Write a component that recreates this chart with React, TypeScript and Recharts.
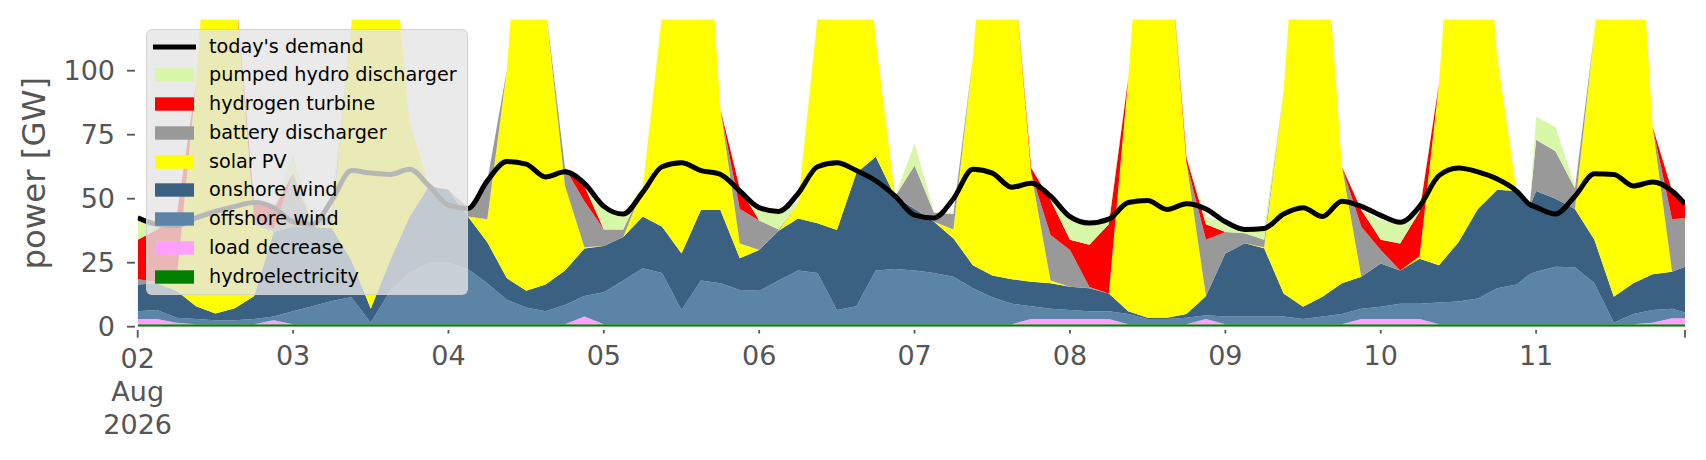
import React from 'react';
import { ComposedChart, Area, Line, XAxis, YAxis } from 'recharts';

const FONT = '"DejaVu Sans", Verdana, sans-serif';

// hours since 2026-08-02 00:00 (3-hourly readings, plus one extra reading at 215 h)
const hours = [
  0, 3, 6, 9, 12, 15, 18, 21,
  24, 27, 30, 33, 36, 39, 42, 45,
  48, 51, 54, 57, 60, 63, 66, 69,
  72, 75, 78, 81, 84, 87, 90, 93,
  96, 99, 102, 105, 108, 111, 114, 117,
  120, 123, 126, 129, 132, 135, 138, 141,
  144, 147, 150, 153, 156, 159, 162, 165,
  168, 171, 174, 177, 180, 183, 186, 189,
  192, 195, 198, 201, 204, 207, 210, 213,
  215, 216, 219, 222, 225, 228, 231, 234, 237,
  239,
];

const hydro = [
  1, 1, 1, 1, 1, 1, 1, 1,
  1, 1, 1, 1, 1, 1, 1, 1,
  1, 1, 1, 1, 1, 1, 1, 1,
  1, 1, 1, 1, 1, 1, 1, 1,
  1, 1, 1, 1, 1, 1, 1, 1,
  1, 1, 1, 1, 1, 1, 1, 1,
  1, 1, 1, 1, 1, 1, 1, 1,
  1, 1, 1, 1, 1, 1, 1, 1,
  1, 1, 1, 1, 1, 1, 1, 1,
  1, 1, 1, 1, 1, 1, 1, 1, 1,
  1,
];

const loadDecrease = [
  2, 2, 0.5, 0, 0, 0, 0, 1.5,
  0, 0, 0, 0, 0, 0, 0, 0,
  0, 0, 0, 0, 0, 0, 0, 3,
  0, 0, 0, 0, 0, 0, 0, 0,
  0, 0, 0, 0, 0, 0, 0, 0,
  0, 0, 0, 0, 0, 0, 2, 2,
  2, 2, 2, 0, 0, 0, 0, 2,
  0, 0, 0, 0, 0, 0, 0, 2,
  2, 2, 2, 0, 0, 0, 0, 0,
  0, 0, 0, 0, 0, 0, 0, 0.5, 2.3,
  2.3,
];

const offshoreWind = [
  3, 3.5, 2, 2, 1.5, 1.5, 2, 1.5,
  5, 7, 9, 10.5, 0.5, 13, 20, 24,
  24, 21.5, 16, 9.5, 6.5, 5, 7.5, 8,
  12.5, 17, 21.8, 20, 5.5, 17, 16, 13.3,
  13, 17, 21, 20, 5.5, 7, 21, 21.5,
  21, 20, 18.5, 14, 10.5, 8, 5, 4,
  3.5, 3, 3, 4, 2, 2, 2.5, 1.5,
  3, 3, 3, 3, 2, 3, 4, 4,
  4.8, 6, 6, 8.5, 8.8, 10, 14, 15.5,
  19.5, 20.5, 22.4, 22.2, 16, 0.5, 4, 5, 3.7,
  2.2,
];

const onshoreWind = [
  10.5, 10.5, 10.5, 5, 2.7, 4.7, 9, 33,
  33, 31, 28.5, 14.5, 5.5, 12, 22, 30,
  28.5, 20.5, 16, 8.5, 6.5, 10.5, 13.5, 18.5,
  18, 17, 20.2, 18, 22.1, 27.6, 28.6, 12.4,
  16, 19.5, 20.3, 19.4, 31.3, 52, 44.4, 28.3,
  24, 20, 15, 9, 8.5, 9.5, 9.6, 10,
  9.1, 9, 7, 1, 0.5, 0.5, 1.5, 7.5,
  24.6, 28.6, 26.6, 9, 4.8, 7.7, 12, 12.5,
  16.9, 13, 17.5, 14.5, 23.2, 35, 38.5, 36.5,
  26.5, 31.5, 26.6, 22.8, 17, 10.2, 12, 14, 14.5,
  17.9,
];

const solarPV = [
  0, 0, 4, 87, 195, 128, 28, 0,
  0, 0, 1.5, 92, 193, 134, 37, 0,
  0, 0, 9, 81, 186, 108.5, 33, 0.5,
  0, 0, 11, 83, 171, 154, 39.4, 5.8,
  0, 0, 5.7, 80.6, 162, 140, 45.6, 0,
  0, 0, 3.5, 81, 180, 131.5, 42.4, 1,
  0, 0, 0, 91, 196, 156.5, 59, 0,
  0, 0, 0.4, 79, 192, 158, 45.5, 0,
  0, 0, 1, 71, 167, 154, 51.5, 0,
  0, 0, 0, 0, 81, 188, 183, 57.5, 0,
  0,
];

const batteryDischarger = [
  2, 0.5, 0, 0, 0, 0, 2, 1,
  21, 1, 4, 0, 0, 0, 0, 0,
  0, 3.5, 15, 0, 0, 0, 7, 18,
  6.5, 3, 0, 0, 0, 0, 0, 13.5,
  11.5, 0.5, 0, 0, 0, 0, 0, 0.2,
  17, 3.5, 6, 0, 0, 0, 0, 17.8,
  14.4, 0.5, 0, 0, 0, 0, 0, 22,
  8.4, 3.9, 3, 0, 0, 0, 0, 19.5,
  5.3, 0, 0, 0, 0, 0, 0, 0,
  0, 20, 18.5, 8, 0, 0, 0, 0, 20.5,
  19.1,
];

const hydrogenTurbine = [
  15.5, 20.5, 25, 0, 0, 0, 6, 8,
  0, 0, 0, 0, 0, 0, 0, 0,
  0, 0, 0, 0, 0, 0, 0, 6,
  0, 0, 0, 0, 0, 0, 0, 8,
  0, 0, 0, 0, 0, 0, 0, 0,
  0, 0, 0, 0, 0, 0, 2, 13.7,
  4, 16.5, 27, 0, 0, 0, 2, 6,
  0, 0, 0, 0, 0, 0, 0, 6.6,
  4, 10.5, 17.5, 0, 0, 0, 0, 0,
  0, 0, 0, 0, 0, 0, 0, 0, 11,
  5.5,
];

const pumpedHydro = [
  7.5, 1, 0, 0, 0, 0, 0, 1,
  7, 1, 5, 0, 0, 0, 0, 0,
  0, 0, 0, 0, 0, 0, 0, 0,
  8, 5, 1, 0, 0, 0, 0, 0,
  5, 7, 1, 0, 0, 0, 0, 0,
  8.6, 0.5, 0.5, 0, 0, 0, 0, 0,
  8, 8.4, 1.5, 0, 0, 0, 0, 3,
  3.5, 1.3, 4, 0, 0, 0, 0, 0,
  7.7, 8.5, 1, 0, 0, 0, 0, 0,
  0, 9, 9.5, 1, 0, 0, 0, 0, 0,
  0,
];

const demand = [
  42.5, 40, 39.5, 42.5, 45, 47, 48.5, 46.5,
  41, 40, 49.5, 61, 60, 59.5, 61.5, 55,
  47.5, 46.2, 57, 64.5, 63.5, 58.5, 60.5, 56,
  47, 44, 52.5, 62.5, 64, 61, 59.5, 53,
  46.5, 45, 52, 62.5, 64, 61, 57, 51,
  43.6, 42.5, 50, 61.5, 60, 54.5, 56, 51,
  43, 40.5, 42, 48.5, 49.3, 45.8, 48, 46,
  41, 38, 38.4, 44, 46.5, 43, 49, 47,
  43.5, 40.8, 47, 59, 62, 60.5, 57.7, 53,
  47.8, 46.7, 44, 51, 59.7, 59.5, 55, 56.5, 53,
  48,
];

const xTickHours = [0, 24, 48, 72, 96, 120, 144, 168, 192, 216, 239];
const xTickLabels = [['02', 'Aug', '2026'], ['03'], ['04'], ['05'], ['06'], ['07'], ['08'], ['09'], ['10'], ['11'], []];
const yTicks = [0, 25, 50, 75, 100];

// stacking order, bottom to top
const stackSeries = [
  { key: 'hydro', name: 'hydroelectricity', color: '#008000', values: hydro },
  { key: 'load', name: 'load decrease', color: '#ffa0ff', values: loadDecrease },
  { key: 'offwind', name: 'offshore wind', color: '#5c84a6', values: offshoreWind },
  { key: 'onwind', name: 'onshore wind', color: '#3b6182', values: onshoreWind },
  { key: 'solar', name: 'solar PV', color: '#ffff00', values: solarPV },
  { key: 'battery', name: 'battery discharger', color: '#999999', values: batteryDischarger },
  { key: 'h2', name: 'hydrogen turbine', color: '#ff0000', values: hydrogenTurbine },
  { key: 'phs', name: 'pumped hydro discharger', color: '#d8f7a8', values: pumpedHydro },
];

const data = hours.map((t, i) => {
  const row: Record<string, number> = { t, demand: demand[i] };
  stackSeries.forEach((s) => {
    row[s.key] = s.values[i];
  });
  return row;
});

const legendItems = [
  { name: "today's demand", color: '#000000', kind: 'line' },
  ...stackSeries
    .slice()
    .reverse()
    .map((s) => ({ name: s.name, color: s.color, kind: 'patch' })),
];

const TICK_COLOR = '#555555';

const XTick = (props: any) => {
  const { x, y, payload } = props;
  const idx = xTickHours.indexOf(payload.value);
  const lines = idx >= 0 ? xTickLabels[idx] : [];
  const major = idx === 0 || idx === xTickHours.length - 1;
  return (
    <g>
      <line x1={x} x2={x} y1={y + 3.3} y2={y + (major ? 11 : 6.8)} stroke={TICK_COLOR} strokeWidth={1.8} />
      {lines.map((s, k) => (
        <text
          key={k}
          x={x}
          y={y + (major ? 41.3 : 38.3) + k * 33.2}
          textAnchor="middle"
          fontSize={27}
          fill={TICK_COLOR}
          fontFamily={FONT}
        >
          {s}
        </text>
      ))}
    </g>
  );
};

const YTick = (props: any) => {
  const { x, y, payload } = props;
  return (
    <g>
      <line x1={x - 10.7} x2={x - 2.7} y1={y} y2={y} stroke={TICK_COLOR} strokeWidth={1.8} />
      <text x={x - 22.7} y={y} dy="0.36em" textAnchor="end" fontSize={27} fill={TICK_COLOR} fontFamily={FONT}>
        {payload.value}
      </text>
    </g>
  );
};

const W = 1690;
const H = 444;

const LegendBox = () => (
  <div
    style={{
      position: 'absolute',
      left: 138,
      top: 21,
      width: 322,
      height: 266,
      boxSizing: 'border-box',
      background: 'rgba(229,229,229,0.8)',
      border: '1px solid rgba(204,204,204,0.8)',
      borderRadius: 6,
      pointerEvents: 'none',
      fontFamily: FONT,
    }}
  >
    {legendItems.map((it, i) => {
      const cy = 16.7 + i * 28.75;
      return (
        <div key={it.name} style={{ position: 'absolute', left: 0, top: cy - 14, height: 28, width: 320 }}>
          <svg width={56} height={28} style={{ position: 'absolute', left: 0, top: 0 }}>
            {it.kind === 'line' ? (
              <line x1={6} x2={49} y1={14} y2={14} stroke={it.color} strokeWidth={5} />
            ) : (
              <rect x={8} y={7.3} width={39} height={13.4} fill={it.color} />
            )}
          </svg>
          <span
            style={{
              position: 'absolute',
              left: 62,
              top: 0,
              lineHeight: '28px',
              fontSize: 19.2,
              color: '#000',
              whiteSpace: 'nowrap',
            }}
          >
            {it.name}
          </span>
        </div>
      );
    })}
  </div>
);

export default function App() {
  return (
    <div style={{ position: 'relative', width: W, height: H, background: '#fff' }}>
      <ComposedChart width={W} height={H} data={data} margin={{ top: 11.5, right: 13, bottom: 0, left: 0 }}>
        <XAxis
          dataKey="t"
          type="number"
          domain={[0, 239]}
          ticks={xTickHours}
          interval={0}
          height={125.3}
          axisLine={false}
          tickLine={false}
          tickSize={0}
          tickMargin={0}
          tick={(p: any) => <XTick {...p} />}
          allowDataOverflow
        />
        <YAxis
          type="number"
          domain={[0, 120]}
          ticks={yTicks}
          interval={0}
          width={129.7}
          axisLine={false}
          tickLine={false}
          tickSize={0}
          tickMargin={0}
          tick={(p: any) => <YTick {...p} />}
          allowDataOverflow
        />
        {stackSeries.map((s) => (
          <Area
            key={s.key}
            type="linear"
            dataKey={s.key}
            name={s.name}
            stackId="gen"
            stroke="none"
            strokeWidth={0}
            fill={s.color}
            fillOpacity={1}
            dot={false}
            activeDot={false}
            isAnimationActive={false}
          />
        ))}
        <Line
          type="monotone"
          dataKey="demand"
          name="today's demand"
          stroke="#000000"
          strokeWidth={5}
          dot={false}
          activeDot={false}
          isAnimationActive={false}
        />
      </ComposedChart>
      <svg width={80} height={H} style={{ position: 'absolute', left: 0, top: 0, pointerEvents: 'none' }}>
        <text
          transform="translate(36.5, 165.2) rotate(-90)"
          textAnchor="middle"
          fontSize={32.4}
          fill={TICK_COLOR}
          fontFamily={FONT}
        >
          power [GW]
        </text>
      </svg>
      <LegendBox />
    </div>
  );
}
